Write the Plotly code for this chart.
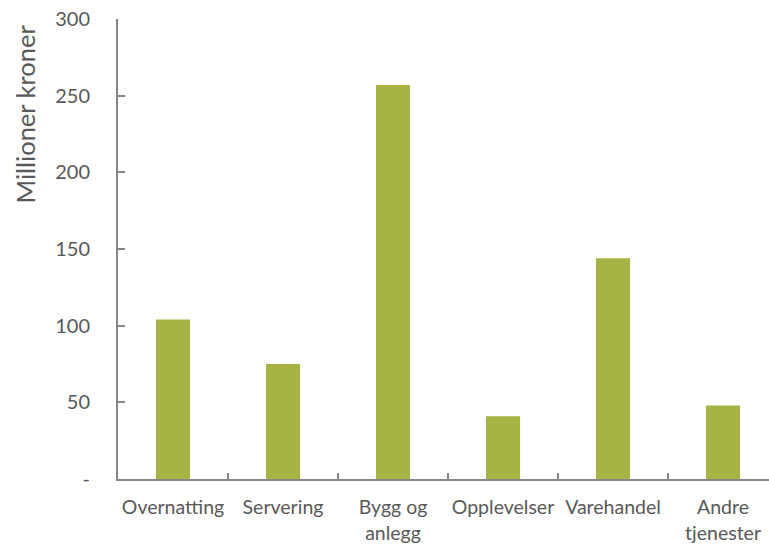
import plotly.graph_objects as go

categories = ["Overnatting", "Servering", "Bygg og<br>anlegg", "Opplevelser", "Varehandel", "Andre<br>tjenester"]
values = [104, 75, 257, 41, 144, 48]

y_tickvals = [0, 50, 100, 150, 200, 250, 300]
y_ticktext = ["-", "50", "100", "150", "200", "250", "300"]

bar_color = "#A7B342"
axis_color = "#868686"
text_color = "#595959"
font_family = "Lato, 'Open Sans', sans-serif"

fig = go.Figure(
    go.Bar(
        x=list(range(len(categories))),
        y=values,
        marker=dict(color=bar_color, line=dict(width=0)),
        width=0.31,
    )
)

fig.update_layout(
    width=769,
    height=544,
    margin=dict(l=118, r=0, t=19, b=63),
    paper_bgcolor="white",
    plot_bgcolor="white",
    showlegend=False,
    font=dict(family=font_family, color=text_color),
    xaxis=dict(
        tickmode="array",
        tickvals=list(range(len(categories))),
        ticktext=categories,
        range=[-0.5, 5.418],
        showgrid=False,
        zeroline=False,
        showline=True,
        linecolor=axis_color,
        linewidth=2,
        ticks="",
        tickfont=dict(size=19.5, color=text_color),
        ticklabelstandoff=10,
        fixedrange=True,
    ),
    yaxis=dict(
        range=[0, 300],
        tickmode="array",
        tickvals=y_tickvals,
        ticktext=y_ticktext,
        showgrid=False,
        zeroline=False,
        showline=True,
        linecolor=axis_color,
        linewidth=2,
        ticks="inside",
        ticklen=7,
        tickwidth=2,
        tickcolor=axis_color,
        tickfont=dict(size=20, color=text_color),
        ticklabelstandoff=22,
    ),
    annotations=[
        dict(
            text="Millioner kroner",
            textangle=-90,
            xref="paper",
            yref="paper",
            x=-118 / 651 + 25 / 651,
            y=(481 - 115) / 462,
            xanchor="center",
            yanchor="middle",
            showarrow=False,
            font=dict(size=25.5, color=text_color, family=font_family),
        )
    ],
)

# category boundary ticks on the x axis (pointing up from the baseline)
for b in [0.5, 1.5, 2.5, 3.5, 4.5]:
    fig.add_shape(
        type="line",
        xref="x",
        yref="paper",
        x0=b,
        x1=b,
        y0=0,
        y1=6 / 462,
        line=dict(color=axis_color, width=2),
    )

fig.write_html("out.html")
